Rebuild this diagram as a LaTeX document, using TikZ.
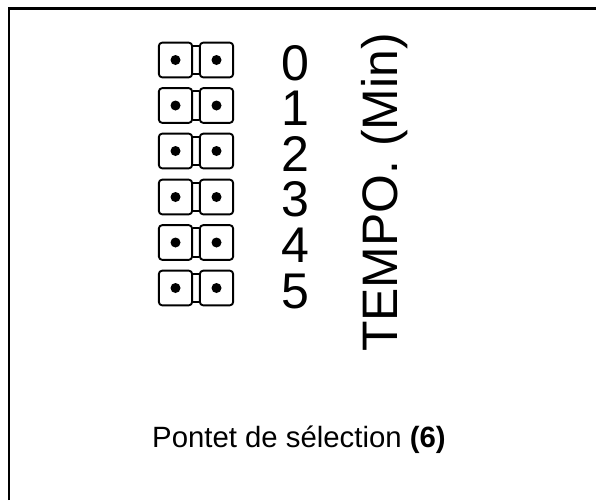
\documentclass[tikz,border=0pt]{standalone}
\usepackage{fontspec}
\setmainfont{Liberation Sans}
\tikzset{
  x=0.75pt, y=-0.75pt,
  frameline/.style={line width=2.2pt},
  padbox/.style={draw, line width=1.4pt, rounded corners=2.5pt, minimum width=25pt, minimum height=26pt, inner sep=0pt},
  link/.style={line width=1.4pt},
  holedot/.style={circle, fill=black, minimum size=7.5pt, inner sep=0pt},
  numlabel/.style={font=\fontsize{37.6pt}{38pt}\selectfont, inner sep=0pt, anchor=base},
}
\begin{document}
\begin{tikzpicture}
\useasboundingbox (0,0) rectangle (596,500);
\coordinate (tl) at (9,8.5);
\coordinate (tr) at (596,8.5);
\coordinate (bl) at (9,500);
\draw[frameline] (bl) -- (tl) -- (tr);
\foreach \i/\y/\b in {0/60/80,1/105.5/125.6,2/151/171.2,3/197/216.8,4/242.5/262.4,5/288/308}{
  \node[padbox] (a\i) at (175.5,\y) {};
  \node[padbox] (b\i) at (216.5,\y) {};
  \node[holedot] at (a\i.center) {};
  \node[holedot] at (b\i.center) {};
  \draw[link] ([yshift=-3pt]a\i.north east) -- ([yshift=-3pt]b\i.north west);
  \draw[link] ([yshift=3pt]a\i.south east) -- ([yshift=3pt]b\i.south west);
  \node[numlabel] (n\i) at (295.5,\b) {\i};
}
\node[font=\fontsize{37.4pt}{38pt}\selectfont, rotate=90, inner sep=0pt] (tempo) at (384.5,192.5) {TEMPO. (Min)};
\node[font=\fontsize{22pt}{24pt}\selectfont, inner sep=0pt, anchor=base] (cap) at (299,447.5) {Pontet de sélection \textbf{(6)}};
\end{tikzpicture}
\end{document}
